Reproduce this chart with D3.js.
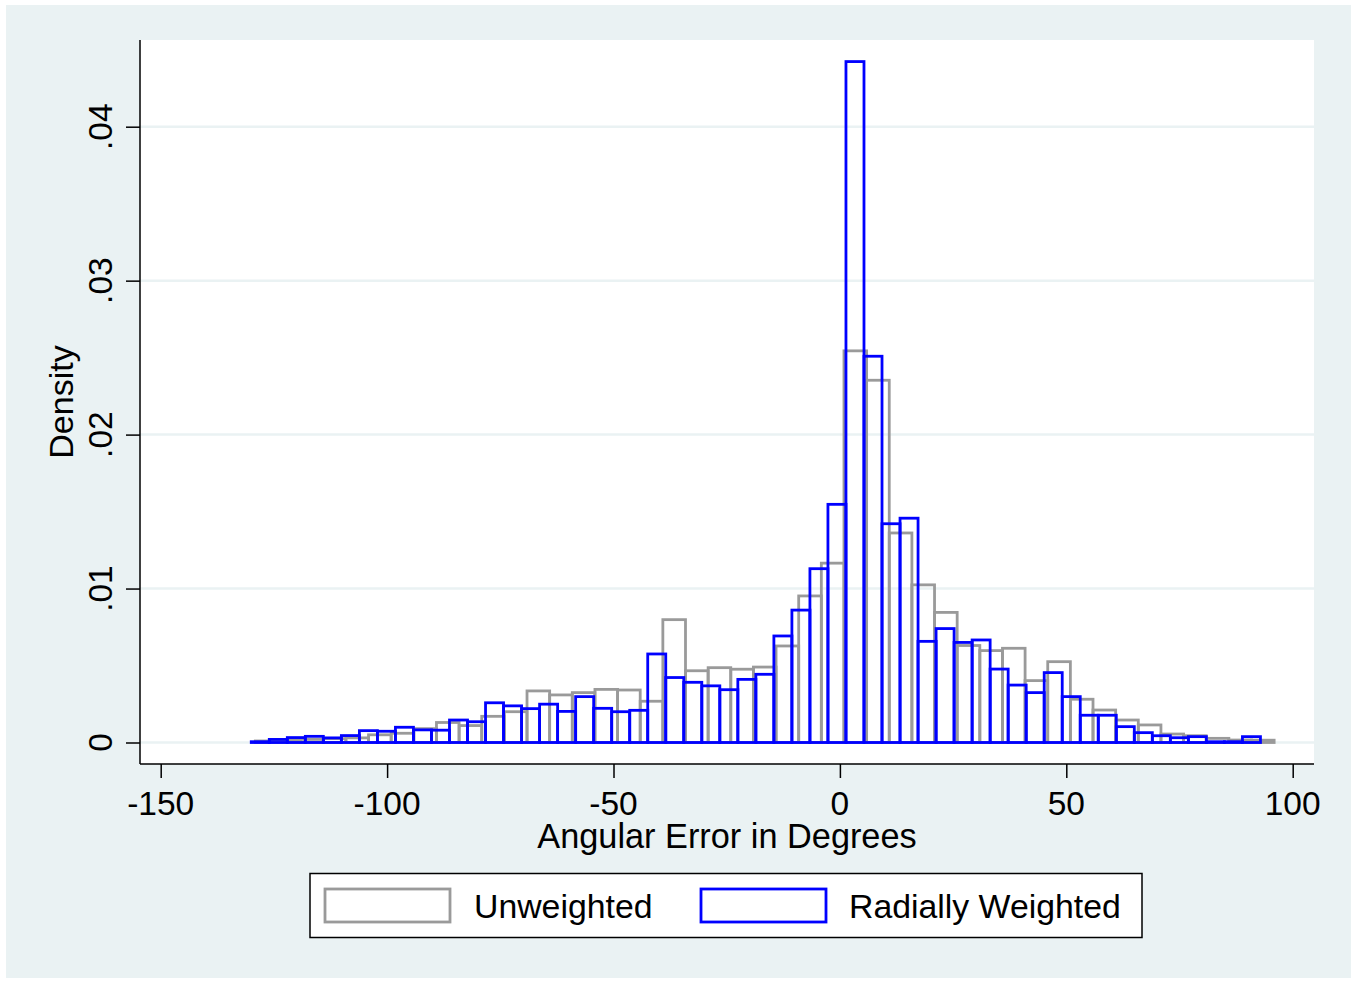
<!DOCTYPE html>
<html>
<head>
<meta charset="utf-8">
<script src="https://cdn.jsdelivr.net/npm/d3@7"></script>
<style>
  body { margin: 0; background: #fff; }
  text { font-family: "Liberation Sans", Arial, sans-serif; fill: #000; }
</style>
</head>
<body>
<div id="chart"></div>
<script>
// histogram bins (angular error in degrees), density per bin
const unweightedStart = -129.1
const unweightedWidth = 5
const unweighted = [0.0001, 0.00015, 0.0002, 0.00025, 0.0003, 0.0005, 0.0006, 0.0009, 0.0013, 0.0011,
  0.0017, 0.002, 0.00335, 0.00309, 0.00324, 0.00345, 0.00341, 0.00268, 0.00798, 0.00466,
  0.00486, 0.00476, 0.0049, 0.00627, 0.00952, 0.01165, 0.02544, 0.02353, 0.01361, 0.01024,
  0.00845, 0.0063, 0.00597, 0.00612, 0.00402, 0.00525, 0.00281, 0.00211, 0.00146, 0.00114,
  0.00055, 0.00044, 0.00027, 0.00016, 0.00015]

const weightedStart = -130
const weightedWidth = 3.98
const weighted = [0.00005, 0.0002, 0.00032, 0.0004, 0.0003, 0.00045, 0.00077, 0.00073, 0.00099, 0.00082,
  0.0008, 0.00146, 0.00135, 0.00258, 0.00238, 0.0022, 0.00249, 0.00202, 0.00298, 0.00222,
  0.002, 0.00209, 0.00575, 0.00422, 0.00391, 0.00368, 0.00343, 0.0041, 0.00443, 0.00692,
  0.0086, 0.01129, 0.01547, 0.04423, 0.02509, 0.01421, 0.01457, 0.00657, 0.0074, 0.0065,
  0.00666, 0.00477, 0.00373, 0.00324, 0.00454, 0.00298, 0.00177, 0.00177, 0.00103, 0.00064,
  0.00044, 0.00031, 0.00038, 0.00005, 0.00005, 0.00038]

const xTicks = [-150, -100, -50, 0, 50, 100]
const yTicks = [0, 0.01, 0.02, 0.03, 0.04]
const yTickLabels = ["0", ".01", ".02", ".03", ".04"]
const legendLabels = ["Unweighted", "Radially Weighted"]

const W = 1357, H = 981
const plot = {left: 140, right: 1314, top: 40, bottom: 764}
const bg = "rgb(234,242,243)"
const grey = "#9a9a9a", blue = "#0000ff"

const svg = d3.select("#chart")
  .append("svg")
  .attr("width", W)
  .attr("height", H)

// outer graph region
svg.append("rect")
  .attr("x", 6).attr("y", 5)
  .attr("width", 1345).attr("height", 973)
  .attr("fill", bg)

// plot region
svg.append("rect")
  .attr("x", plot.left).attr("y", plot.top)
  .attr("width", plot.right - plot.left).attr("height", plot.bottom - plot.top)
  .attr("fill", "#fff")

const x = d3.scaleLinear().domain([-150, 100]).range([160.7, 1292.7])
const y = d3.scaleLinear().domain([0, 0.04]).range([742.5, 126.7])

// gridlines
svg.selectAll(".grid")
  .data(yTicks).enter()
  .append("line")
  .attr("class", "grid")
  .attr("x1", plot.left).attr("x2", plot.right)
  .attr("y1", d => y(d)).attr("y2", d => y(d))
  .attr("stroke", bg)
  .attr("stroke-width", 2.5)

function drawBars(values, start, width, color, cls) {
  svg.selectAll("." + cls)
    .data(values).enter()
    .append("rect")
    .attr("class", cls)
    .attr("x", (d, i) => x(start + i * width))
    .attr("width", (d, i) => x(start + (i + 1) * width) - x(start + i * width))
    .attr("y", d => y(d))
    .attr("height", d => y(0) - y(d))
    .attr("fill", "none")
    .attr("stroke", color)
    .attr("stroke-width", 2.8)
}

drawBars(unweighted, unweightedStart, unweightedWidth, grey, "unw")
drawBars(weighted, weightedStart, weightedWidth, blue, "wtd")

// axes
const yAxis = svg.append("g")
  .attr("transform", `translate(${plot.left},0)`)
  .call(d3.axisLeft(y).tickValues(yTicks).tickSize(14).tickFormat(""))
yAxis.select(".domain").attr("d", `M0,${plot.top}V${plot.bottom}`).attr("stroke-width", 1.5)
yAxis.selectAll(".tick line").attr("stroke-width", 1.5)

const xAxis = svg.append("g")
  .attr("transform", `translate(0,${plot.bottom})`)
  .call(d3.axisBottom(x).tickValues(xTicks).tickSize(14).tickFormat(""))
xAxis.select(".domain").attr("d", `M${plot.left},0H${plot.right}`).attr("stroke-width", 1.5)
xAxis.selectAll(".tick line").attr("stroke-width", 1.5)

// tick labels
svg.selectAll(".ylab")
  .data(yTicks).enter()
  .append("text")
  .attr("class", "ylab")
  .attr("transform", d => `translate(112,${y(d)}) rotate(-90)`)
  .attr("text-anchor", "middle")
  .style("font-size", "33.5px")
  .text((d, i) => yTickLabels[i])

svg.selectAll(".xlab")
  .data(xTicks).enter()
  .append("text")
  .attr("class", "xlab")
  .attr("x", d => x(d))
  .attr("y", 815)
  .attr("text-anchor", "middle")
  .style("font-size", "33.5px")
  .text(d => d)

// axis titles
svg.append("text")
  .attr("transform", `translate(73,${(plot.top + plot.bottom) / 2}) rotate(-90)`)
  .attr("text-anchor", "middle")
  .style("font-size", "34px")
  .text("Density")

svg.append("text")
  .attr("x", (plot.left + plot.right) / 2)
  .attr("y", 848)
  .attr("text-anchor", "middle")
  .style("font-size", "34.3px")
  .text("Angular Error in Degrees")

// legend
const legend = svg.append("g")
legend.append("rect")
  .attr("x", 310).attr("y", 873.5)
  .attr("width", 832).attr("height", 64)
  .attr("fill", "#fff")
  .attr("stroke", "#000")
  .attr("stroke-width", 1.5)

const keys = [
  {label: legendLabels[0], color: grey, kx: 325, tx: 474},
  {label: legendLabels[1], color: blue, kx: 701, tx: 849}
]
keys.forEach(k => {
  legend.append("rect")
    .attr("x", k.kx).attr("y", 889)
    .attr("width", 125).attr("height", 33)
    .attr("fill", "#fff")
    .attr("stroke", k.color)
    .attr("stroke-width", 2.8)
  legend.append("text")
    .attr("x", k.tx).attr("y", 918)
    .style("font-size", "33.8px")
    .text(k.label)
})
</script>
</body>
</html>
